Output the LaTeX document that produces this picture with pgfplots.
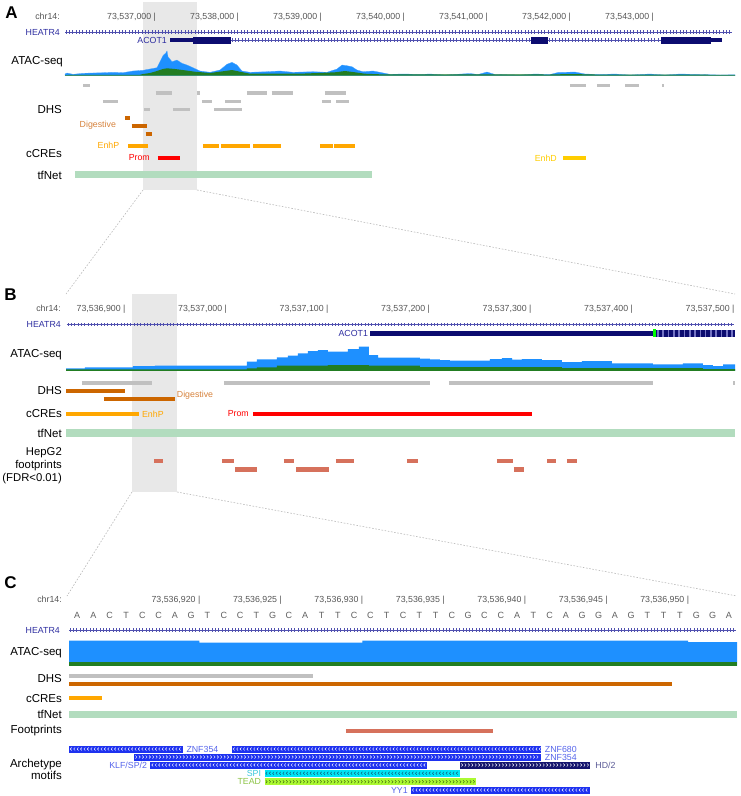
\documentclass[border=0pt]{standalone}
\usepackage{fontspec}
\setmainfont{Liberation Sans}
\usepackage{pgfplots}
\pgfplotsset{compat=1.18}
\usetikzlibrary{decorations.markings}

\definecolor{atacblue}{RGB}{30,144,255}
\definecolor{atacgreen}{RGB}{34,125,34}
\definecolor{hlgray}{RGB}{232,232,232}
\definecolor{dhsgray}{RGB}{192,192,192}
\definecolor{digest}{RGB}{204,102,0}
\definecolor{digestlab}{RGB}{214,130,60}
\definecolor{enhp}{RGB}{255,167,0}
\definecolor{enhd}{RGB}{255,205,0}
\definecolor{prom}{RGB}{255,0,0}
\definecolor{tfnet}{RGB}{178,220,190}
\definecolor{fprint}{RGB}{214,113,92}
\definecolor{navy}{RGB}{12,12,112}
\definecolor{genelab}{RGB}{45,45,160}
\definecolor{intron}{RGB}{80,80,175}
\definecolor{cdsstripe}{RGB}{115,115,195}
\definecolor{motifblue}{RGB}{30,50,240}
\definecolor{motifnavy}{RGB}{20,20,110}
\definecolor{spicyan}{RGB}{0,228,245}
\definecolor{teadlime}{RGB}{172,250,50}
\definecolor{spichev}{RGB}{20,90,120}
\definecolor{teadchev}{RGB}{70,110,20}
\definecolor{mlab}{RGB}{85,100,235}
\definecolor{hdlab}{RGB}{90,90,150}
\definecolor{spilab}{RGB}{60,200,220}
\definecolor{teadlab}{RGB}{140,195,70}
\definecolor{ticktext}{RGB}{85,85,85}
\definecolor{seqgray}{RGB}{95,95,95}

% one px of the reference = 1pt; every panel uses y = pixel row (top down)
\pgfplotsset{
  trk/.style={scale only axis, height=796pt, ymin=0, ymax=796, y dir=reverse,
    hide axis, clip=false, anchor=north west, unbounded coords=jump},
}
\tikzset{
  lab/.style={anchor=east, font=\fontsize{11.5}{13}\selectfont},
  sm/.style={font=\fontsize{8.8}{10}\selectfont},
  tk/.style={sm, text=ticktext, anchor=base east, xshift=1.2pt},
  intr/.style={draw=intron, line width=0.7pt, postaction={decorate, decoration={markings,
    mark=between positions 1pt and -1pt step 3.3pt with {\draw[intron, line width=0.4pt] (0pt,-1.6pt) -- (0pt,1.6pt);}}}},
  revchev/.style={postaction={decorate, decoration={markings,
    mark=between positions 2pt and -1pt step 3.4pt with {\draw[#1, line width=0.45pt] (0.7pt,1.5pt) -- (-0.7pt,0pt) -- (0.7pt,-1.5pt);}}}},
  fwdchev/.style={postaction={decorate, decoration={markings,
    mark=between positions 2pt and -1pt step 3.4pt with {\draw[#1, line width=0.45pt] (-0.7pt,1.5pt) -- (0.7pt,0pt) -- (-0.7pt,-1.5pt);}}}},
}

\begin{document}
\begin{tikzpicture}[every node/.append style={inner sep=0pt}]
\path[use as bounding box] (0pt,0pt) rectangle (740pt,-796pt);

%%%%%%%%%%%%%%%% A : x = position - 73,530,000
\begin{axis}[trk, at={(65pt,0pt)}, width=670pt, xmin=5916, xmax=13988]
\fill[hlgray] (axis cs:6855,2) rectangle (axis cs:7506,190);
\node[tk] at (axis cs:7000,19.3) {73,537,000 |};
\node[tk] at (axis cs:8000,19.3) {73,538,000 |};
\node[tk] at (axis cs:9000,19.3) {73,539,000 |};
\node[tk] at (axis cs:10000,19.3) {73,540,000 |};
\node[tk] at (axis cs:11000,19.3) {73,541,000 |};
\node[tk] at (axis cs:12000,19.3) {73,542,000 |};
\node[tk] at (axis cs:13000,19.3) {73,543,000 |};

% genes
\addplot[intr] coordinates {(5916,32) (13950,32)};
\addplot[intr] coordinates {(7916,40) (13096,40)};
\addplot[navy, line width=3.5pt] coordinates {(7181,40) (7458,40) (nan,nan) (13699,40) (13831,40)};
\addplot[navy, line width=7pt] coordinates {(7458,40) (7916,40) (nan,nan) (11530,40) (11735,40) (nan,nan) (13096,40) (13699,40)};
\node[sm, text=genelab, anchor=east, xshift=-3pt] at (axis cs:7181,40) {ACOT1};

% ATAC-seq
\addplot[fill=atacblue, draw=atacblue!80!white, line width=0.3pt] coordinates {
(5916,75.5) (5916,74) (5940,73) (6012,74.3) (6133,73.3) (6253,73) (6373,72.7) (6494,72.3)
(6614,72.7) (6735,71) (6855,70.3) (6940,69) (7024,67.7) (7060,61.7) (7096,55.7) (7130,53)
(7145,51) (7157,56.7) (7205,61.7) (7265,60) (7325,63.3) (7386,65) (7458,67.7) (7542,71)
(7663,72.3) (7783,70) (7867,64.3) (7928,62.3) (7988,65) (8048,71) (8145,72.3) (8349,71.7)
(8506,71) (8663,72.3) (8904,71.7) (9072,72.3) (9193,69) (9253,65) (9313,65.7) (9373,66.7)
(9434,70) (9506,71.7) (9627,71) (9711,72.3) (9831,74.3) (10012,74) (10193,74.5) (10313,74)
(10494,75) (10795,73.5) (10892,74.5) (11000,72) (11096,74.5) (11398,75) (11578,74) (11759,74.5)
(11855,72.5) (12060,72) (12181,74) (12361,74.5) (12542,74) (12723,75) (12964,74) (13145,75)
(13325,74) (13566,74.5) (13807,75) (13988,74.8) (13988,75.5)};
\addplot[fill=atacgreen, draw=none] coordinates {
(5916,75.5) (5916,75) (6819,74.8) (6855,74) (6940,73) (7024,71) (7096,69) (7145,68.3)
(7241,69) (7361,70.3) (7482,71.7) (7663,73) (7843,71) (7928,70) (8024,71.7) (8145,73.7)
(8747,73.7) (9169,72.3) (9289,71) (9410,72.3) (9530,73.7) (9711,74.3) (11759,74.5)
(12000,74) (12300,74.5) (13988,74.8) (13988,75.5)};

% DHS
\addplot[dhsgray, line width=3.5pt] coordinates {(6133,85.5) (6217,85.5) (nan,nan) (12000,85.5) (12193,85.5)
 (nan,nan) (12325,85.5) (12482,85.5) (nan,nan) (12663,85.5) (12831,85.5) (nan,nan) (13108,85.5) (13127,85.5)};
\addplot[dhsgray, line width=3.5pt] coordinates {(7008,93) (7201,93) (nan,nan) (7502,93) (7546,93)
 (nan,nan) (8108,93) (8349,93) (nan,nan) (8406,93) (8666,93) (nan,nan) (9048,93) (9301,93)};
\addplot[dhsgray, line width=3.5pt] coordinates {(6373,101.5) (6554,101.5) (nan,nan) (7566,101.5) (7687,101.5)
 (nan,nan) (7843,101.5) (8036,101.5) (nan,nan) (9012,101.5) (9120,101.5) (nan,nan) (9181,101.5) (9337,101.5)};
\addplot[dhsgray, line width=3.5pt] coordinates {(6867,109.5) (6940,109.5) (nan,nan) (7217,109.5) (7422,109.5)
 (nan,nan) (7711,109.5) (8048,109.5)};
\addplot[digest, line width=4pt] coordinates {(6639,117.7) (6695,117.7) (nan,nan) (6719,125.7) (6907,125.7)
 (nan,nan) (6888,134) (6960,134)};
\node[sm, text=digestlab, anchor=east] at (axis cs:6532,125.7) {Digestive};

% cCREs
\addplot[enhp, line width=4pt] coordinates {(6675,145.7) (6916,145.7) (nan,nan) (7578,145.7) (7771,145.7)
 (nan,nan) (7795,145.7) (8145,145.7) (nan,nan) (8181,145.7) (8518,145.7) (nan,nan) (8988,145.7) (9150,145.7)
 (nan,nan) (9160,145.7) (9410,145.7)};
\node[sm, text=enhp, anchor=east] at (axis cs:6572,145.7) {EnhP};
\addplot[prom, line width=4pt] coordinates {(7036,157.7) (7301,157.7)};
\node[sm, text=prom, anchor=east] at (axis cs:6940,157.7) {Prom};
\addplot[enhd, line width=4pt] coordinates {(11916,158) (12193,158)};
\node[sm, text=enhd, anchor=east] at (axis cs:11843,158) {EnhD};

% tfNet
\addplot[tfnet, line width=7pt] coordinates {(6036,174.7) (9614,174.7)};
\end{axis}

%%%%%%%%%%%%%%%% B : x = position - 73,536,800
\begin{axis}[trk, at={(66pt,0pt)}, width=669pt, xmin=42.4, xmax=701.5]
\fill[hlgray] (axis cs:107.4,294) rectangle (axis cs:151.7,492);
\node[tk] at (axis cs:100,311) {73,536,900 |};
\node[tk] at (axis cs:200,311) {73,537,000 |};
\node[tk] at (axis cs:300,311) {73,537,100 |};
\node[tk] at (axis cs:400,311) {73,537,200 |};
\node[tk] at (axis cs:500,311) {73,537,300 |};
\node[tk] at (axis cs:600,311) {73,537,400 |};
\node[tk] at (axis cs:700,311) {73,537,500 |};

\addplot[intr] coordinates {(43.3,324.3) (701,324.3)};
\addplot[navy, line width=4.5pt] coordinates {(342,333.3) (620.7,333.3)};
\addplot[green, line width=8pt] coordinates {(620.7,333.3) (623.6,333.3)};
\addplot[navy, line width=7pt, postaction={decorate, decoration={markings,
  mark=between positions 2pt and -1pt step 5.3pt with {\draw[cdsstripe, line width=1.6pt] (0pt,-3.5pt) -- (0pt,3.5pt);}}}]
  coordinates {(623.6,333.3) (701.5,333.3)};
\node[sm, text=genelab, anchor=east, xshift=-2pt] at (axis cs:342,333.3) {ACOT1};

\addplot[const plot, fill=atacblue, draw=none] coordinates {
(42.4,370.8) (42.4,368.3) (61.1,367.3) (108.4,366) (130,365.5) (220.7,361.7) (230.5,359.3)
(250.2,357.3) (261.1,355.7) (270.9,353.3) (280.8,351) (290.6,350) (300.5,351.7) (320.2,349)
(331,346.7) (340.9,355) (349.8,357.5) (391.1,358.5) (401,359.3) (410.8,360) (420.7,360.5)
(460.1,359) (471.9,358) (481.8,359.5) (491.6,359) (511.3,360) (531,362) (550.7,361)
(580.3,363.3) (620.7,364.3) (650.2,363.3) (669.9,365) (679.8,366) (689.7,364.3)
(701.5,364.3) (701.5,370.8)};
\addplot[const plot, fill=atacgreen, draw=none] coordinates {
(42.4,370.8) (42.4,369.3) (220.7,368.3) (230.5,367.3) (250.2,365.7) (300.5,365.2)
(340.9,365.5) (391.1,367.2) (531,368.2) (669.9,369.2) (701.5,369.2) (701.5,370.8)};

\addplot[dhsgray, line width=4pt] coordinates {(58.1,383) (127.1,383) (nan,nan) (198,383) (401,383)
 (nan,nan) (419.7,383) (620.7,383) (nan,nan) (700,383) (701.5,383)};
\addplot[digest, line width=4pt] coordinates {(42.4,391) (100.5,391) (nan,nan) (79.8,399) (149.8,399)};
\node[sm, text=digestlab, anchor=west] at (axis cs:151.5,395) {Digestive};

\addplot[enhp, line width=4.5pt] coordinates {(42.4,414) (114.3,414)};
\node[sm, text=enhp, anchor=west] at (axis cs:117.2,414) {EnhP};
\addplot[prom, line width=4.5pt] coordinates {(226.6,414) (501.5,414)};
\node[sm, text=prom, anchor=east] at (axis cs:222.7,414) {Prom};

\addplot[tfnet, line width=7.5pt] coordinates {(42.4,433) (701.5,433)};

\addplot[fprint, line width=4.5pt] coordinates {(129.1,461) (137.9,461) (nan,nan) (196.1,461) (207.9,461)
 (nan,nan) (257.1,461) (267,461) (nan,nan) (308.4,461) (326.1,461) (nan,nan) (378.3,461) (389.2,461)
 (nan,nan) (467,461) (482.8,461) (nan,nan) (516.3,461) (525.1,461) (nan,nan) (535.9,461) (545.8,461)};
\addplot[fprint, line width=4.5pt] coordinates {(208.9,469.5) (230.5,469.5) (nan,nan) (269,469.5) (301.5,469.5)
 (nan,nan) (483.7,469.5) (493.6,469.5)};
\end{axis}

%%%%%%%%%%%%%%%% C : x = position - 73,536,900
\begin{axis}[trk, at={(69pt,0pt)}, width=668pt, xmin=12, xmax=53]
\node[tk] at (axis cs:20,602.3) {73,536,920 |};
\node[tk] at (axis cs:25,602.3) {73,536,925 |};
\node[tk] at (axis cs:30,602.3) {73,536,930 |};
\node[tk] at (axis cs:35,602.3) {73,536,935 |};
\node[tk] at (axis cs:40,602.3) {73,536,940 |};
\node[tk] at (axis cs:45,602.3) {73,536,945 |};
\node[tk] at (axis cs:50,602.3) {73,536,950 |};

\addplot[draw=none, nodes near coords, point meta=explicit symbolic,
  nodes near coords align={center},
  every node near coord/.append style={sm, text=seqgray, font=\fontsize{9}{10}\selectfont}]
  table[meta=b] {
x y b
12.5 615.7 A
13.5 615.7 A
14.5 615.7 C
15.5 615.7 T
16.5 615.7 C
17.5 615.7 C
18.5 615.7 A
19.5 615.7 G
20.5 615.7 T
21.5 615.7 C
22.5 615.7 C
23.5 615.7 T
24.5 615.7 G
25.5 615.7 C
26.5 615.7 A
27.5 615.7 T
28.5 615.7 T
29.5 615.7 C
30.5 615.7 C
31.5 615.7 T
32.5 615.7 C
33.5 615.7 T
34.5 615.7 T
35.5 615.7 C
36.5 615.7 G
37.5 615.7 C
38.5 615.7 C
39.5 615.7 A
40.5 615.7 T
41.5 615.7 C
42.5 615.7 A
43.5 615.7 G
44.5 615.7 G
45.5 615.7 A
46.5 615.7 G
47.5 615.7 T
48.5 615.7 T
49.5 615.7 T
50.5 615.7 G
51.5 615.7 G
52.5 615.7 A
};

\addplot[intr] coordinates {(12,630) (52.95,630)};

\addplot[const plot, fill=atacblue, draw=none] coordinates {
(12,665.5) (12,640.7) (20,642.5) (30,640.7) (50,642) (53,642) (53,665.5)};
\addplot[fill=atacgreen, draw=none] coordinates {(12,665.5) (12,661.7) (53,661.7) (53,665.5)};

\addplot[dhsgray, line width=4pt] coordinates {(12,675.7) (27,675.7)};
\addplot[digest, line width=4pt] coordinates {(12,684) (49,684)};
\addplot[enhp, line width=4pt] coordinates {(12,698.3) (14,698.3)};
\addplot[tfnet, line width=7pt] coordinates {(12,714) (53,714)};
\addplot[fprint, line width=4pt] coordinates {(29,731) (38,731)};

% archetype motifs
\addplot[motifblue, line width=7pt, revchev=white] coordinates {(12,749) (19,749)};
\node[sm, text=mlab, anchor=west] at (axis cs:19.2,749) {ZNF354};
\addplot[motifblue, line width=7pt, revchev=white] coordinates {(22,749) (41,749)};
\node[sm, text=mlab, anchor=west] at (axis cs:41.2,749) {ZNF680};
\addplot[motifblue, line width=7pt, fwdchev=white] coordinates {(16,757) (41,757)};
\node[sm, text=mlab, anchor=west] at (axis cs:41.2,757) {ZNF354};
\node[sm, text=mlab, anchor=east] at (axis cs:16.8,765) {KLF/SP/2};
\addplot[motifblue, line width=7pt, revchev=white] coordinates {(17,765) (34,765)};
\addplot[motifnavy, line width=7pt, fwdchev=white] coordinates {(36,765) (44,765)};
\node[sm, text=hdlab, anchor=west] at (axis cs:44.3,765) {HD/2};
\node[sm, text=spilab, anchor=east] at (axis cs:23.8,773.3) {SPI};
\addplot[spicyan, line width=7pt, revchev=spichev] coordinates {(24,773.3) (36,773.3)};
\node[sm, text=teadlab, anchor=east] at (axis cs:23.8,781.7) {TEAD};
\addplot[teadlime, line width=7pt, fwdchev=teadchev] coordinates {(24,781.7) (37,781.7)};
\node[sm, text=mlab, anchor=east] at (axis cs:32.8,790) {YY1};
\addplot[motifblue, line width=7pt, revchev=white] coordinates {(33,790) (44,790)};
\end{axis}

%%%%%%%%%%%%%%%% track names, panel letters, zoom guides
\begin{scope}[font=\fontsize{11.5}{13}\selectfont]
\node[font=\bfseries\fontsize{17}{17}\selectfont] at (11.5pt,-13pt) {A};
\node[font=\bfseries\fontsize{17}{17}\selectfont] at (10.5pt,-294.5pt) {B};
\node[font=\bfseries\fontsize{17}{17}\selectfont] at (10.5pt,-583pt) {C};

\node[sm, text=ticktext, anchor=base east] at (60pt,-19.3pt) {chr14:};
\node[sm, text=genelab, anchor=east] at (60pt,-32pt) {HEATR4};
\node[lab] at (63pt,-62pt) {ATAC-seq};
\node[lab] at (62pt,-110pt) {DHS};
\node[lab] at (62pt,-153.3pt) {cCREs};
\node[lab] at (62pt,-175.5pt) {tfNet};

\node[sm, text=ticktext, anchor=base east] at (61pt,-311pt) {chr14:};
\node[sm, text=genelab, anchor=east] at (61pt,-324.3pt) {HEATR4};
\node[lab] at (62pt,-355pt) {ATAC-seq};
\node[lab] at (62pt,-391pt) {DHS};
\node[lab] at (62pt,-414pt) {cCREs};
\node[lab] at (62pt,-433pt) {tfNet};
\node[lab, align=right, font=\fontsize{11.3}{13}\selectfont] at (62pt,-466pt) {HepG2\\footprints\\(FDR<0.01)};

\node[sm, text=ticktext, anchor=base east] at (62pt,-602.3pt) {chr14:};
\node[sm, text=genelab, anchor=east] at (60pt,-630pt) {HEATR4};
\node[lab] at (62pt,-653pt) {ATAC-seq};
\node[lab] at (62pt,-678.3pt) {DHS};
\node[lab] at (62pt,-698.3pt) {cCREs};
\node[lab] at (62pt,-714pt) {tfNet};
\node[lab] at (62pt,-731pt) {Footprints};
\node[lab, align=right, font=\fontsize{11.5}{12}\selectfont] at (62pt,-769.5pt) {Archetype\\motifs};
\end{scope}

\begin{scope}[draw=gray!55, line width=0.6pt, dash pattern=on 1.6pt off 1.6pt]
\draw (143pt,-190pt) -- (66pt,-294pt);
\draw (197pt,-190pt) -- (735pt,-294pt);
\draw (132pt,-492pt) -- (67pt,-596pt);
\draw (177pt,-492pt) -- (737pt,-596pt);
\end{scope}
\end{tikzpicture}
\end{document}
